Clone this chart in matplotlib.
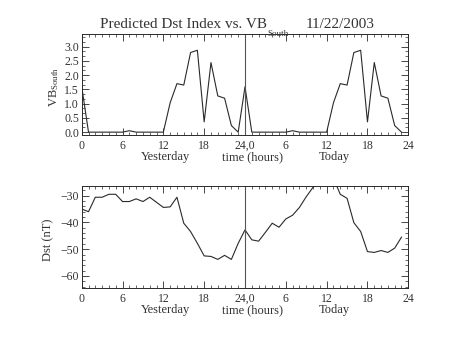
import matplotlib
matplotlib.use("Agg")
import matplotlib.pyplot as plt
from matplotlib.ticker import MultipleLocator, AutoMinorLocator, FormatStrFormatter

# ---- data ----
hours_yesterday = list(range(0, 24))
hours_today = list(range(24, 48))
vb_yesterday = [1.60, 0.0, 0.0, 0.0, 0.0, 0.0, 0.0, 0.05, 0.0, 0.0, 0.0, 0.0,
                0.0, 1.03, 1.70, 1.65, 2.79, 2.87, 0.36, 2.44, 1.27, 1.19, 0.23, 0.0]
vb_today = [1.59, 0.0, 0.0, 0.0, 0.0, 0.0, 0.0, 0.05, 0.0, 0.0, 0.0, 0.0,
            0.0, 1.03, 1.70, 1.65, 2.79, 2.87, 0.36, 2.44, 1.27, 1.19, 0.23, 0.0]
dst_yesterday = [-35.0, -36.0, -30.6, -30.6, -29.5, -29.5, -32.2, -32.2, -31.2, -32.2,
                 -30.6, -32.5, -34.4, -34.2, -30.6, -40.3, -43.4, -47.8, -52.5, -52.7,
                 -53.8, -52.3, -53.8, -47.8]
dst_today = [-42.8, -46.5, -47.0, -43.7, -40.3, -41.8, -38.7, -37.3, -34.4, -30.4,
             -26.9, -25.0, -24.0, -23.5, -29.5, -31.0, -40.1, -43.4, -50.9, -51.2,
             -50.5, -51.2, -49.6, -45.5]
tick_positions = [0, 6, 12, 18, 24, 30, 36, 42, 48]
tick_labels = ["0", "6", "12", "18", "24,0", "6", "12", "18", "24"]
title_main = "Predicted Dst Index vs. VB"
title_sub = "South"
date_text = "11/22/2003"

hours = hours_yesterday + hours_today
vb = vb_yesterday + vb_today
dst = dst_yesterday + dst_today

FONT = "Liberation Serif"
plt.rcParams["font.family"] = [FONT, "DejaVu Serif"]
plt.rcParams["mathtext.fontset"] = "custom"
plt.rcParams["mathtext.rm"] = FONT
plt.rcParams["mathtext.it"] = FONT
plt.rcParams["mathtext.bf"] = FONT

W, H = 453, 340
fig = plt.figure(figsize=(W / 100, H / 100), dpi=100)
fig.patch.set_facecolor("white")

LC = "#2a2a2a"
TC = "#333333"


def fx(px):
    return px / W


def fy(py):
    return 1 - py / H


ax1 = fig.add_axes([fx(81.7), fy(135), fx(408.3) - fx(81.7), fy(34) - fy(135)])
ax2 = fig.add_axes([fx(81.7), fy(288.3), fx(408.3) - fx(81.7), fy(186) - fy(288.3)])

ax1.plot(hours, vb, color=LC, lw=0.8)
ax2.plot(hours, dst, color=LC, lw=0.8)

ax1.set_ylim(-0.1, 3.44)
ax2.set_ylim(-64.6, -26.4)
ax1.yaxis.set_major_locator(MultipleLocator(0.5))
ax1.yaxis.set_minor_locator(AutoMinorLocator(3))
ax1.yaxis.set_major_formatter(FormatStrFormatter("%.1f"))
ax2.yaxis.set_major_locator(MultipleLocator(10))
ax2.yaxis.set_minor_locator(AutoMinorLocator(5))

for ax in (ax1, ax2):
    ax.set_xlim(0, 48)
    ax.set_xticks(tick_positions)
    ax.set_xticklabels(tick_labels)
    ax.xaxis.set_minor_locator(MultipleLocator(1))
    ax.axvline(24, color="#555555", lw=0.8)
    ax.tick_params(which="both", direction="in", top=True, right=True,
                   colors=LC, labelcolor=TC, labelsize=8.5)
    ax.tick_params(axis="x", which="major", length=5, width=0.6, pad=3.5)
    ax.tick_params(axis="y", which="major", length=5, width=0.6, pad=2)
    ax.tick_params(which="minor", length=2.5, width=0.5)
    for s in ax.spines.values():
        s.set_color(LC)
        s.set_linewidth(0.7)

# x titles
for yb in (157, 310.5):
    fig.text(fx(165.5), fy(yb), "Yesterday", ha="center", va="center", fontsize=9, color=TC)
    fig.text(fx(253), fy(yb), "time (hours)", ha="center", va="center", fontsize=9, color=TC)
    fig.text(fx(334), fy(yb), "Today", ha="center", va="center", fontsize=9, color=TC)

# y titles
fig.text(fx(54), fy(87), "VB$_{\\rm South}$", rotation=90, ha="center", va="center",
         fontsize=9, color=TC)
fig.text(fx(48), fy(240), "Dst (nT)", rotation=90, ha="center", va="center",
         fontsize=9, color=TC)

# title
t_main = fig.text(fx(100), fy(28.5), title_main, ha="left", va="baseline",
                  fontsize=11, color=TC)
renderer = fig.canvas.get_renderer()
bb = t_main.get_window_extent(renderer=renderer)
fig.text(bb.x1 / W + fx(0.5), fy(35.5), title_sub, ha="left", va="baseline",
         fontsize=6.5, color=TC)
fig.text(fx(306), fy(28.5), date_text, ha="left", va="baseline", fontsize=11, color=TC)

fig.savefig("out.png", dpi=100, facecolor="white")
